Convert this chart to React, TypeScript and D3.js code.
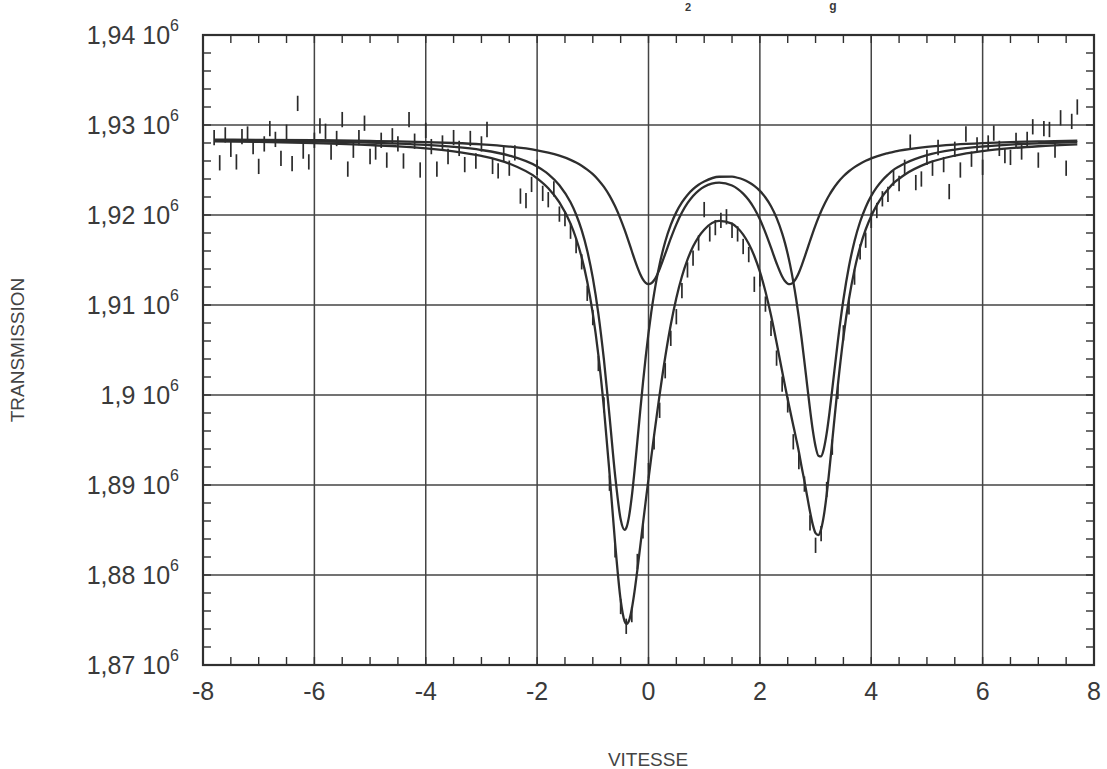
import React from "react";
import * as d3 from "d3";

// ---- axis ticks ----
const VELOCITY_TICKS = [-8, -6, -4, -2, 0, 2, 4, 6, 8];
const TRANSMISSION_TICKS = [1870, 1880, 1890, 1900, 1910, 1920, 1930, 1940]; // in 10^3 counts
const TRANSMISSION_MANTISSA = ["1,87", "1,88", "1,89", "1,9", "1,91", "1,92", "1,93", "1,94"];

// ---- fitted curves (velocity, transmission in 10^3 counts) ----
const FIT_VELOCITY = [
  -7.8, -7.0, -6.0, -5.0, -4.5, -4.0, -3.5, -3.0, -2.5, -2.0, -1.8, -1.6, -1.4, -1.3, -1.2, -1.1, -1.0,
  -0.9, -0.8, -0.7, -0.6, -0.5, -0.43, -0.4, -0.35, -0.3, -0.25, -0.2, -0.15, -0.1, -0.05, 0, 0.05,
  0.1, 0.15, 0.2, 0.3, 0.4, 0.5, 0.6, 0.7, 0.8, 0.9, 1.0, 1.27, 1.5, 1.6, 1.7, 1.8, 1.9, 2.0, 2.1,
  2.2, 2.3, 2.4, 2.45, 2.5, 2.54, 2.6, 2.65, 2.7, 2.75, 2.8, 2.85, 2.9, 2.95, 3.0, 3.05, 3.1, 3.15,
  3.2, 3.25, 3.3, 3.4, 3.5, 3.6, 3.7, 3.8, 3.9, 4.0, 4.1, 4.2, 4.3, 4.4, 4.5, 4.6, 5.0, 5.5, 6.0,
  6.5, 7.0, 7.7,
];
const FIT_SITE_A = [
  1928.38, 1928.35, 1928.31, 1928.23, 1928.18, 1928.1, 1928.0, 1927.85, 1927.6, 1927.19, 1926.93,
  1926.59, 1926.13, 1925.84, 1925.48, 1925.05, 1924.54, 1923.9, 1923.12, 1922.15, 1920.96, 1919.52,
  1918.37, 1917.84, 1916.93, 1916.0, 1915.07, 1914.21, 1913.45, 1912.85, 1912.46, 1912.31, 1912.41,
  1912.75, 1913.29, 1914.0, 1915.67, 1917.4, 1918.96, 1920.27, 1921.31, 1922.12, 1922.72, 1923.15,
  1923.6, 1923.28, 1922.91, 1922.38, 1921.66, 1920.72, 1919.52, 1918.05, 1916.37, 1914.64, 1913.17,
  1912.66, 1912.37, 1912.31, 1912.52, 1912.96, 1913.59, 1914.38, 1915.26, 1916.18, 1917.11, 1918.02,
  1918.88, 1919.68, 1920.42, 1921.09, 1921.7, 1922.25, 1922.75, 1923.61, 1924.3, 1924.86, 1925.32,
  1925.7, 1926.02, 1926.29, 1926.51, 1926.71, 1926.87, 1927.02, 1927.14, 1927.25, 1927.58, 1927.83,
  1927.99, 1928.1, 1928.17, 1928.25,
];
const FIT_SITE_B = [
  1928.31, 1928.27, 1928.18, 1928.05, 1927.94, 1927.79, 1927.57, 1927.22, 1926.6, 1925.39, 1924.55,
  1923.31, 1921.41, 1920.06, 1918.31, 1916.02, 1913.01, 1909.02, 1903.89, 1897.65, 1891.1, 1886.19,
  1885.01, 1885.22, 1886.49, 1888.73, 1891.63, 1894.86, 1898.15, 1901.32, 1904.24, 1906.87, 1909.2,
  1911.23, 1913.01, 1914.54, 1917.03, 1918.9, 1920.32, 1921.4, 1922.23, 1922.87, 1923.36, 1923.72,
  1924.25, 1924.26, 1924.14, 1923.94, 1923.64, 1923.23, 1922.68, 1921.95, 1920.98, 1919.68, 1917.96,
  1916.9, 1915.66, 1914.54, 1912.6, 1910.72, 1908.6, 1906.25, 1903.69, 1901.04, 1898.43, 1896.09,
  1894.28, 1893.26, 1893.18, 1894.06, 1895.76, 1898.05, 1900.66, 1905.97, 1910.61, 1914.3, 1917.11,
  1919.25, 1920.87, 1922.12, 1923.09, 1923.86, 1924.48, 1925.02, 1925.39, 1925.73, 1926.66, 1927.27,
  1927.61, 1927.83, 1927.97, 1928.1,
];
const FIT_TOTAL = [
  1928.19, 1928.12, 1927.99, 1927.78, 1927.62, 1927.4, 1927.07, 1926.56, 1925.71, 1924.08, 1922.98,
  1921.41, 1919.04, 1917.39, 1915.29, 1912.58, 1909.04, 1904.42, 1898.5, 1891.3, 1883.57, 1877.21,
  1874.88, 1874.56, 1874.92, 1876.23, 1878.2, 1880.57, 1883.1, 1885.67, 1888.2, 1890.68, 1893.1,
  1895.48, 1897.8, 1900.04, 1904.2, 1907.8, 1910.78, 1913.17, 1915.04, 1916.49, 1917.58, 1918.37,
  1919.35, 1919.04, 1918.55, 1917.82, 1916.8, 1915.45, 1913.7, 1911.5, 1908.85, 1905.83, 1902.63,
  1901.06, 1899.53, 1898.35, 1896.62, 1895.18, 1893.7, 1891.99, 1890.45, 1888.72, 1887.04, 1885.6,
  1884.66, 1884.44, 1885.1, 1886.65, 1888.96, 1891.8, 1894.91, 1901.08, 1906.41, 1910.66, 1913.93,
  1916.45, 1918.39, 1919.9, 1921.1, 1922.07, 1922.85, 1923.54, 1924.03, 1924.48, 1925.73, 1926.6,
  1927.1, 1927.42, 1927.64, 1927.85,
];

// ---- measured spectrum: channels from -7.8 mm/s in steps of 0.1 ----
const CHANNEL_START = -7.8;
const CHANNEL_STEP = 0.1;
const COUNTS = [
  1928.6, 1925.8, 1928.9, 1927.3, 1925.9, 1928.7, 1929.0, 1927.6, 1925.4, 1927.9,
  1929.6, 1928.4, 1926.3, 1929.2, 1925.7, 1932.4, 1927.1, 1925.9, 1928.3, 1929.9,
  1929.3, 1927.0, 1928.5, 1930.6, 1925.1, 1927.2, 1928.6, 1930.2, 1926.5, 1927.0,
  1928.3, 1926.1, 1928.8, 1927.9, 1926.0, 1930.6, 1928.2, 1925.0, 1929.4, 1927.6,
  1925.1, 1928.0, 1926.5, 1928.6, 1927.4, 1925.6, 1928.5, 1926.0, 1927.9, 1929.5,
  1925.4, 1924.9, 1926.8, 1925.2, 1926.9, 1922.1, 1921.6, 1923.4, 1925.3, 1922.4,
  1921.7, 1922.9, 1920.1, 1919.6, 1918.2, 1916.6, 1914.8, 1911.3, 1908.6, 1903.5,
  1898.9, 1890.2, 1882.8, 1876.5, 1874.3, 1875.6, 1881.5, 1884.9, 1891.6, 1894.8,
  1898.3, 1902.7, 1906.3, 1908.7, 1911.6, 1913.9, 1915.2, 1916.9, 1920.6, 1917.9,
  1918.6, 1919.4, 1919.8, 1918.3, 1917.9, 1916.5, 1915.6, 1912.3, 1912.9, 1910.1,
  1907.4, 1904.1, 1901.2, 1898.9, 1894.8, 1892.6, 1890.1, 1885.8, 1883.3, 1884.6,
  1889.5, 1894.2, 1900.4, 1906.9, 1909.8, 1913.1, 1915.9, 1917.2, 1919.4, 1920.5,
  1921.8, 1922.3, 1924.1, 1923.5, 1925.3, 1928.1, 1923.6, 1924.0, 1926.4, 1925.2,
  1927.5, 1925.6, 1922.6, 1927.3, 1925.0, 1929.0, 1926.2, 1927.8, 1925.3, 1928.0,
  1929.1, 1927.4, 1926.6, 1926.4, 1928.3, 1927.0, 1928.4, 1929.8, 1926.1, 1929.6,
  1929.5, 1927.2, 1930.8, 1925.2, 1930.4, 1932.0,
];
const COUNT_ERROR = 0.85;

const INK = "#303030";
const TEXT = "#3a3a3a";
const FONT = "'Liberation Sans', Arial, Helvetica, sans-serif";

export default function App() {
  const W = 1107;
  const H = 769;
  const x = d3.scaleLinear().domain([-8, 8]).range([203, 1094]);
  const y = d3.scaleLinear().domain([1870, 1940]).range([665, 35]);

  const line = d3
    .line<number>()
    .x((_, i) => x(FIT_VELOCITY[i]))
    .y((d) => y(d))
    .curve(d3.curveMonotoneX);

  const [x0, x1] = x.range();
  const [yb, yt] = y.range();

  const xMinor = d3.range(-8, 8.001, 0.5);
  const yMinor = d3.range(1870, 1940.001, 2);

  return (
    <svg
      width={W}
      height={H}
      style={{ position: "absolute", left: 0, top: 0, background: "#fff" }}
      fontFamily={FONT}
    >
      <rect x={0} y={0} width={W} height={H} fill="#fff" />

      {/* fragments of the title at the top edge of the scan */}
      <text x={688} y={11} fontSize={11} fill={TEXT} textAnchor="middle" fontWeight="bold">
        2
      </text>
      <text x={833} y={10} fontSize={12} fill={TEXT} textAnchor="middle" fontWeight="bold">
        g
      </text>

      {/* grid */}
      {VELOCITY_TICKS.slice(1, -1).map((v) => (
        <line key={"gx" + v} x1={x(v)} x2={x(v)} y1={yt} y2={yb} stroke="#444" strokeWidth={1.5} />
      ))}
      {TRANSMISSION_TICKS.slice(1, -1).map((t) => (
        <line key={"gy" + t} x1={x0} x2={x1} y1={y(t)} y2={y(t)} stroke="#444" strokeWidth={1.5} />
      ))}

      {/* minor ticks */}
      {xMinor.map((v) => (
        <g key={"mx" + v}>
          <line x1={x(v)} x2={x(v)} y1={yb} y2={yb - 8} stroke={INK} strokeWidth={1.4} />
          <line x1={x(v)} x2={x(v)} y1={yt} y2={yt + 8} stroke={INK} strokeWidth={1.4} />
        </g>
      ))}
      {yMinor.map((t) => (
        <g key={"my" + t}>
          <line x1={x0} x2={x0 + 8} y1={y(t)} y2={y(t)} stroke={INK} strokeWidth={1.4} />
          <line x1={x1} x2={x1 - 8} y1={y(t)} y2={y(t)} stroke={INK} strokeWidth={1.4} />
        </g>
      ))}

      {/* frame */}
      <rect x={x0} y={yt} width={x1 - x0} height={yb - yt} fill="none" stroke={INK} strokeWidth={2.2} />

      {/* measured data as error bars */}
      {COUNTS.map((c, i) => {
        const v = CHANNEL_START + i * CHANNEL_STEP;
        return (
          <line
            key={"d" + i}
            x1={x(v)}
            x2={x(v)}
            y1={y(c - COUNT_ERROR)}
            y2={y(c + COUNT_ERROR)}
            stroke="#2a2a2a"
            strokeWidth={1.7}
          />
        );
      })}

      {/* fitted sub-spectra and total fit */}
      <path d={line(FIT_SITE_A) || ""} fill="none" stroke="#2e2e2e" strokeWidth={2.3} />
      <path d={line(FIT_SITE_B) || ""} fill="none" stroke="#2e2e2e" strokeWidth={2.3} />
      <path d={line(FIT_TOTAL) || ""} fill="none" stroke="#2e2e2e" strokeWidth={2.3} />

      {/* x tick labels */}
      {VELOCITY_TICKS.map((v) => (
        <text key={"lx" + v} x={x(v)} y={700} fontSize={25} fill={TEXT} textAnchor="middle">
          {v}
        </text>
      ))}

      {/* y tick labels */}
      {TRANSMISSION_TICKS.map((t, i) => (
        <text key={"ly" + t} x={179} y={y(t) + 9} fontSize={25} fill={TEXT} textAnchor="end">
          {TRANSMISSION_MANTISSA[i] + " 10"}
          <tspan fontSize={16} dy={-13}>
            6
          </tspan>
        </text>
      ))}

      {/* axis titles */}
      <text x={648} y={766} fontSize={19} fill="#444" textAnchor="middle">
        VITESSE
      </text>
      <text
        transform={`translate(24,${(yt + yb) / 2}) rotate(-90)`}
        fontSize={19}
        fill="#444"
        textAnchor="middle"
      >
        TRANSMISSION
      </text>
    </svg>
  );
}
